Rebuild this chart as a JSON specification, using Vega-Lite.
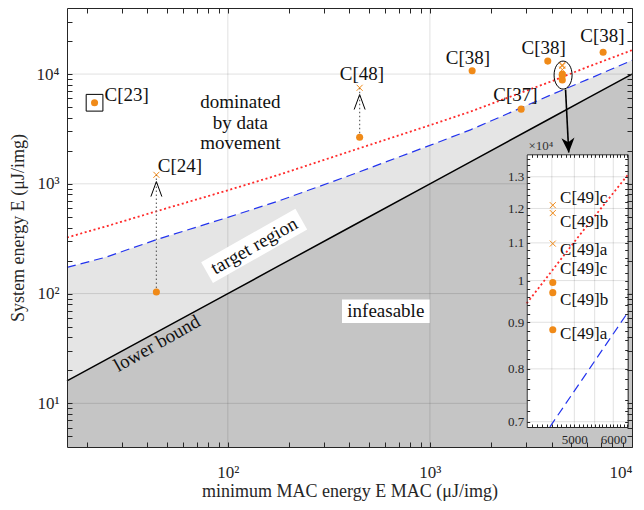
{
  "$schema": "https://vega.github.io/schema/vega-lite/v6.json",
  "width": 565,
  "height": 439,
  "autosize": {"type": "none"},
  "padding": {"left": 67, "top": 8, "right": 12, "bottom": 63},
  "background": "white",
  "config": {
    "font": "Liberation Serif",
    "view": {"stroke": null},
    "axis": {"titleFontWeight": "normal", "labelColor": "#262626", "titleColor": "#262626", "domainColor": "#262626", "tickColor": "#262626", "grid": false, "labelOverlap": false}
  },
  "datasets": {
    "curve": [
      {"x": 16, "red": 324, "blue": 173},
      {"x": 25, "red": 410, "blue": 215},
      {"x": 44.3, "red": 562, "blue": 310},
      {"x": 100, "red": 873, "blue": 495},
      {"x": 178.5, "red": 1207, "blue": 698},
      {"x": 400, "red": 1970, "blue": 1190},
      {"x": 1000, "red": 3420, "blue": 2240},
      {"x": 1587, "red": 4550, "blue": 3105},
      {"x": 4000, "red": 8600, "blue": 6500},
      {"x": 6000, "red": 11580, "blue": 8900},
      {"x": 10000, "red": 16500, "blue": 13350}
    ],
    "dots": [
      {"name": "C[23]", "x": 21.9, "y": 5480},
      {"name": "C[24]", "x": 44.3, "y": 103.4},
      {"name": "C[48]", "x": 449, "y": 2660},
      {"name": "C[38]", "x": 1618, "y": 10720},
      {"name": "C[38]", "x": 3830, "y": 13130},
      {"name": "C[38]", "x": 7195, "y": 15780},
      {"name": "C[37]", "x": 2828, "y": 4790},
      {"name": "C[49]a", "x": 4520, "y": 8830},
      {"name": "C[49]b", "x": 4520, "y": 9700},
      {"name": "C[49]c", "x": 4520, "y": 9950}
    ],
    "crosses": [
      {"name": "C[24]", "x": 44.3, "y": 1208},
      {"name": "C[48]", "x": 449, "y": 7500},
      {"name": "C[49]a", "x": 4520, "y": 10980},
      {"name": "C[49]b", "x": 4520, "y": 11860},
      {"name": "C[49]c", "x": 4520, "y": 12100}
    ],
    "conn": [
      {"x": 44.3, "lo": 103.4, "hi": 1208},
      {"x": 449, "lo": 2660, "hi": 7500}
    ],
    "labels": [
      {"t": "C[23]", "x": 31.6, "y": 6440},
      {"t": "C[24]", "x": 57.9, "y": 1459},
      {"t": "C[48]", "x": 461, "y": 9960},
      {"t": "C[38]", "x": 1542, "y": 14130},
      {"t": "C[38]", "x": 3656, "y": 17420},
      {"t": "C[38]", "x": 7145, "y": 22080},
      {"t": "C[37]", "x": 2648, "y": 6500}
    ],
    "c49": [
      {"x": 4520, "dot": 8830, "cross": 10980},
      {"x": 4520, "dot": 9700, "cross": 11860},
      {"x": 4520, "dot": 9950, "cross": 12100}
    ],
    "c49labels": [
      {"t": "C[49]c", "x": 4677, "y": 12330},
      {"t": "C[49]b", "x": 4677, "y": 11590},
      {"t": "C[49]a", "x": 4677, "y": 10800},
      {"t": "C[49]c", "x": 4677, "y": 10290},
      {"t": "C[49]b", "x": 4677, "y": 9526},
      {"t": "C[49]a", "x": 4677, "y": 8740}
    ]
  },
  "layer": [
    {
      "resolve": {"axis": {"x": "independent", "y": "independent"}},
      "layer": [
        {
          "data": {"name": "curve"},
          "mark": {"type": "area", "color": "#e5e5e5"},
          "encoding": {
            "x": {"field": "x", "type": "quantitative", "scale": {"type": "log", "domain": [16, 10000], "nice": false}, "axis": null},
            "y": {"field": "blue", "type": "quantitative", "scale": {"type": "log", "domain": [4, 40000], "nice": false}, "axis": null},
            "y2": {"field": "x"}
          }
        },
        {
          "data": {"name": "curve"},
          "mark": {"type": "area", "color": "#c5c5c5"},
          "encoding": {
            "x": {"field": "x", "type": "quantitative", "scale": {"type": "log", "domain": [16, 10000], "nice": false}, "axis": null},
            "y": {"field": "x", "type": "quantitative", "scale": {"type": "log", "domain": [4, 40000], "nice": false}, "axis": null},
            "y2": {"datum": 4}
          }
        },
        {
          "data": {"values": [{"v": 100}, {"v": 1000}]},
          "mark": {"type": "rule", "color": "#000", "opacity": 0.12, "strokeWidth": 1},
          "encoding": {
            "x": {"field": "v", "type": "quantitative", "scale": {"type": "log", "domain": [16, 10000], "nice": false},
              "axis": {"orient": "bottom", "zindex": 1, "values": [20,30,40,50,60,70,80,90,100,200,300,400,500,600,700,800,900,1000,2000,3000,4000,5000,6000,7000,8000,9000,10000],
                "labelExpr": "datum.value==100?'10²':datum.value==1000?'10³':datum.value==10000?'10⁴':''",
                "tickSize": -5, "labelPadding": 22, "labelFontSize": 17, "title": "minimum MAC energy  E MAC (μJ/img)", "titleFontSize": 18, "titlePadding": 2}}
          }
        },
        {
          "data": {"values": [{"v": 10}, {"v": 100}, {"v": 1000}, {"v": 10000}]},
          "mark": {"type": "rule", "color": "#000", "opacity": 0.12, "strokeWidth": 1},
          "encoding": {
            "y": {"field": "v", "type": "quantitative", "scale": {"type": "log", "domain": [4, 40000], "nice": false},
              "axis": {"orient": "left", "zindex": 1, "values": [5,6,7,8,9,10,20,30,40,50,60,70,80,90,100,200,300,400,500,600,700,800,900,1000,2000,3000,4000,5000,6000,7000,8000,9000,10000,20000,30000],
                "labelExpr": "datum.value==10?'10¹':datum.value==100?'10²':datum.value==1000?'10³':datum.value==10000?'10⁴':''",
                "tickSize": -5, "labelPadding": 13, "labelFontSize": 17, "title": "System energy  E (μJ/img)", "titleFontSize": 18, "titlePadding": 9}}
          }
        },
        {
          "data": {"name": "curve"},
          "mark": {"type": "line", "color": "#000", "strokeWidth": 1.5},
          "encoding": {
            "x": {"field": "x", "type": "quantitative", "scale": {"type": "log", "domain": [16, 10000], "nice": false}, "axis": null},
            "y": {"field": "x", "type": "quantitative", "scale": {"type": "log", "domain": [4, 40000], "nice": false}, "axis": null}
          }
        },
        {
          "data": {"name": "curve"},
          "mark": {"type": "line", "color": "#2233ee", "strokeWidth": 1.2, "strokeDash": [9, 5]},
          "encoding": {
            "x": {"field": "x", "type": "quantitative", "scale": {"type": "log", "domain": [16, 10000], "nice": false}, "axis": null},
            "y": {"field": "blue", "type": "quantitative", "scale": {"type": "log", "domain": [4, 40000], "nice": false}, "axis": null}
          }
        },
        {
          "data": {"name": "curve"},
          "mark": {"type": "line", "color": "#ff2a2a", "strokeWidth": 1.8, "strokeDash": [2, 2.6]},
          "encoding": {
            "x": {"field": "x", "type": "quantitative", "scale": {"type": "log", "domain": [16, 10000], "nice": false},
              "axis": {"orient": "top", "zindex": 1, "values": [20,30,40,50,60,70,80,90,100,200,300,400,500,600,700,800,900,1000,2000,3000,4000,5000,6000,7000,8000,9000,10000], "labels": false, "tickSize": -5, "title": null}},
            "y": {"field": "red", "type": "quantitative", "scale": {"type": "log", "domain": [4, 40000], "nice": false},
              "axis": {"orient": "right", "zindex": 1, "values": [5,6,7,8,9,10,20,30,40,50,60,70,80,90,100,200,300,400,500,600,700,800,900,1000,2000,3000,4000,5000,6000,7000,8000,9000,10000,20000,30000], "labels": false, "tickSize": -5, "title": null}}
          }
        },
        {
          "data": {"name": "conn"},
          "mark": {"type": "rule", "color": "#666", "strokeWidth": 1.2, "strokeDash": [1.5, 2.5]},
          "encoding": {
            "x": {"field": "x", "type": "quantitative", "scale": {"type": "log", "domain": [16, 10000], "nice": false}, "axis": null},
            "y": {"field": "lo", "type": "quantitative", "scale": {"type": "log", "domain": [4, 40000], "nice": false}, "axis": null},
            "y2": {"field": "hi"}
          }
        },
        {
          "data": {"name": "dots"},
          "mark": {"type": "point", "shape": "circle", "filled": true, "color": "#F08A18", "opacity": 1, "size": 50},
          "encoding": {
            "x": {"field": "x", "type": "quantitative", "scale": {"type": "log", "domain": [16, 10000], "nice": false}, "axis": null},
            "y": {"field": "y", "type": "quantitative", "scale": {"type": "log", "domain": [4, 40000], "nice": false}, "axis": null}
          }
        },
        {
          "data": {"name": "crosses"},
          "mark": {"type": "point", "shape": "M-1,-1L1,1M-1,1L1,-1", "filled": false, "color": "#F08A18", "opacity": 1, "size": 36, "strokeWidth": 1},
          "encoding": {
            "x": {"field": "x", "type": "quantitative", "scale": {"type": "log", "domain": [16, 10000], "nice": false}, "axis": null},
            "y": {"field": "y", "type": "quantitative", "scale": {"type": "log", "domain": [4, 40000], "nice": false}, "axis": null}
          }
        },
        {
          "data": {"values": [{"x": 44.3, "y": 1208}, {"x": 449, "y": 7500}]},
          "mark": {"type": "point", "shape": "M-0.73,2.9L0,0.9L0.73,2.9", "filled": false, "color": "#000", "opacity": 1, "size": 225, "strokeWidth": 1},
          "encoding": {
            "x": {"field": "x", "type": "quantitative", "scale": {"type": "log", "domain": [16, 10000], "nice": false}, "axis": null},
            "y": {"field": "y", "type": "quantitative", "scale": {"type": "log", "domain": [4, 40000], "nice": false}, "axis": null}
          }
        },
        {
          "data": {"values": [{"x": 21.9, "y": 5480}]},
          "mark": {"type": "point", "shape": "square", "filled": false, "color": "#000", "opacity": 1, "size": 280, "strokeWidth": 1},
          "encoding": {
            "x": {"field": "x", "type": "quantitative", "scale": {"type": "log", "domain": [16, 10000], "nice": false}, "axis": null},
            "y": {"field": "y", "type": "quantitative", "scale": {"type": "log", "domain": [4, 40000], "nice": false}, "axis": null}
          }
        },
        {
          "data": {"values": [{"x": 4560, "y": 9790}]},
          "mark": {"type": "point", "shape": "M -0.643 0 A 0.643 1 0 1 1 0.643 0 A 0.643 1 0 1 1 -0.643 0 Z", "filled": false, "color": "#000", "opacity": 1, "size": 784, "strokeWidth": 1},
          "encoding": {
            "x": {"field": "x", "type": "quantitative", "scale": {"type": "log", "domain": [16, 10000], "nice": false}, "axis": null},
            "y": {"field": "y", "type": "quantitative", "scale": {"type": "log", "domain": [4, 40000], "nice": false}, "axis": null}
          }
        },
        {
          "data": {"values": [{"x": 4690, "y": 7225, "x2": 4864, "y2": 1930}]},
          "mark": {"type": "rule", "color": "#000", "strokeWidth": 1.6},
          "encoding": {
            "x": {"field": "x", "type": "quantitative", "scale": {"type": "log", "domain": [16, 10000], "nice": false}, "axis": null},
            "y": {"field": "y", "type": "quantitative", "scale": {"type": "log", "domain": [4, 40000], "nice": false}, "axis": null},
            "x2": {"field": "x2"},
            "y2": {"field": "y2"}
          }
        },
        {
          "data": {"values": [{"x": 4864, "y": 1915}]},
          "mark": {"type": "point", "shape": "M -0.87 -2 L 0 0 L 0.87 -2 L 0 -1.4 Z", "filled": true, "color": "#000", "opacity": 1, "size": 225, "angle": -3},
          "encoding": {
            "x": {"field": "x", "type": "quantitative", "scale": {"type": "log", "domain": [16, 10000], "nice": false}, "axis": null},
            "y": {"field": "y", "type": "quantitative", "scale": {"type": "log", "domain": [4, 40000], "nice": false}, "axis": null}
          }
        },
        {
          "data": {"name": "labels"},
          "mark": {"type": "text", "fontSize": 19, "color": "#111", "align": "center", "baseline": "middle"},
          "encoding": {
            "x": {"field": "x", "type": "quantitative", "scale": {"type": "log", "domain": [16, 10000], "nice": false}, "axis": null},
            "y": {"field": "y", "type": "quantitative", "scale": {"type": "log", "domain": [4, 40000], "nice": false}, "axis": null},
            "text": {"field": "t"}
          }
        },
        {
          "data": {"values": [{"x": 135, "y": 272}]},
          "mark": {"type": "point", "shape": "M -1 -0.2207 L 1 -0.2207 L 1 0.2207 L -1 0.2207 Z", "filled": true, "color": "#fff", "opacity": 1, "size": 11729, "angle": -29.5},
          "encoding": {
            "x": {"field": "x", "type": "quantitative", "scale": {"type": "log", "domain": [16, 10000], "nice": false}, "axis": null},
            "y": {"field": "y", "type": "quantitative", "scale": {"type": "log", "domain": [4, 40000], "nice": false}, "axis": null}
          }
        },
        {
          "data": {"values": [{"x": 605, "y": 69}]},
          "mark": {"type": "point", "shape": "M -1 -0.266 L 1 -0.266 L 1 0.266 L -1 0.266 Z", "filled": true, "color": "#fff", "opacity": 1, "size": 7674},
          "encoding": {
            "x": {"field": "x", "type": "quantitative", "scale": {"type": "log", "domain": [16, 10000], "nice": false}, "axis": null},
            "y": {"field": "y", "type": "quantitative", "scale": {"type": "log", "domain": [4, 40000], "nice": false}, "axis": null}
          }
        },
        {
          "data": {"values": [{"t": "target region", "x": 135, "y": 272}, {"t": "lower bound", "x": 44.6, "y": 35.1}]},
          "mark": {"type": "text", "fontSize": 19, "color": "#111", "align": "center", "baseline": "middle", "angle": -29.5},
          "encoding": {
            "x": {"field": "x", "type": "quantitative", "scale": {"type": "log", "domain": [16, 10000], "nice": false}, "axis": null},
            "y": {"field": "y", "type": "quantitative", "scale": {"type": "log", "domain": [4, 40000], "nice": false}, "axis": null},
            "text": {"field": "t"}
          }
        },
        {
          "data": {"values": [{"t": "infeasable", "x": 605, "y": 69}, {"t": "dominated\nby data\nmovement", "x": 115.3, "y": 5520}]},
          "mark": {"type": "text", "fontSize": 19, "color": "#111", "align": "center", "baseline": "middle", "lineBreak": "\n", "lineHeight": 20.5},
          "encoding": {
            "x": {"field": "x", "type": "quantitative", "scale": {"type": "log", "domain": [16, 10000], "nice": false}, "axis": null},
            "y": {"field": "y", "type": "quantitative", "scale": {"type": "log", "domain": [4, 40000], "nice": false}, "axis": null},
            "text": {"field": "t"}
          }
        },
        {
          "data": {"values": [{"t": "×10⁴", "x": 3074, "y": 2042}]},
          "mark": {"type": "text", "fontSize": 13, "color": "#333", "align": "left", "baseline": "alphabetic"},
          "encoding": {
            "x": {"field": "x", "type": "quantitative", "scale": {"type": "log", "domain": [16, 10000], "nice": false}, "axis": null},
            "y": {"field": "y", "type": "quantitative", "scale": {"type": "log", "domain": [4, 40000], "nice": false}, "axis": null},
            "text": {"field": "t"}
          }
        }
      ]
    },
    {
      "resolve": {"axis": {"x": "independent", "y": "independent"}},
      "layer": [
        {
          "data": {"values": [{"a": 4000, "b": 6420, "c": 6907, "d": 13760}]},
          "mark": {"type": "rect", "color": "#fff"},
          "encoding": {
            "x": {"field": "a", "type": "quantitative", "scale": {"type": "log", "domain": [4000, 6420], "nice": false, "range": [459.7, 560.7]},
              "axis": {"orient": "bottom", "zindex": 2, "offset": -20, "values": [4100,4200,4300,4400,4500,4600,4700,4800,4900,5000,5100,5200,5300,5400,5500,5600,5700,5800,5900,6000,6100,6200,6300,6400],
                "labelExpr": "datum.value==5000||datum.value==6000?format(datum.value,'d'):''", "tickSize": -3, "labelPadding": 9, "labelFontSize": 13, "labelFlush": false, "title": null}},
            "x2": {"field": "b"},
            "y": {"field": "c", "type": "quantitative", "scale": {"type": "log", "domain": [6907, 13760], "nice": false, "range": [419, 146.3]},
              "axis": {"orient": "left", "zindex": 2, "offset": -459.7, "values": [7000,7200,7400,7600,7800,8000,8200,8400,8600,8800,9000,9200,9400,9600,9800,10000,10200,10400,10600,10800,11000,11200,11400,11600,11800,12000,12200,12400,12600,12800,13000,13200,13400,13600],
                "labelExpr": "indexof([7000,8000,9000,10000,11000,12000,13000],datum.value)>=0?format(datum.value/10000,'.1~f'):''", "tickSize": -3, "labelPadding": 6, "labelFontSize": 13, "labelFlush": false, "title": null}},
            "y2": {"field": "d"}
          }
        },
        {
          "data": {"values": [{"v": 4500}, {"v": 5000}, {"v": 5500}, {"v": 6000}]},
          "mark": {"type": "rule", "color": "#000", "opacity": 0.12, "strokeWidth": 1},
          "encoding": {
            "x": {"field": "v", "type": "quantitative", "scale": {"type": "log", "domain": [4000, 6420], "nice": false, "range": [459.7, 560.7]}, "axis": null},
            "y": {"datum": 6907, "type": "quantitative", "scale": {"type": "log", "domain": [6907, 13760], "nice": false, "range": [419, 146.3]}, "axis": null},
            "y2": {"datum": 13760}
          }
        },
        {
          "data": {"values": [{"v": 7000}, {"v": 8000}, {"v": 9000}, {"v": 10000}, {"v": 11000}, {"v": 12000}, {"v": 13000}]},
          "mark": {"type": "rule", "color": "#000", "opacity": 0.12, "strokeWidth": 1},
          "encoding": {
            "y": {"field": "v", "type": "quantitative", "scale": {"type": "log", "domain": [6907, 13760], "nice": false, "range": [419, 146.3]}, "axis": null},
            "x": {"datum": 4000, "type": "quantitative", "scale": {"type": "log", "domain": [4000, 6420], "nice": false, "range": [459.7, 560.7]}, "axis": null},
            "x2": {"datum": 6420}
          }
        },
        {
          "data": {"values": [{"x": 4000, "y": 9440}, {"x": 5100, "y": 11180}, {"x": 6420, "y": 13060}]},
          "mark": {"type": "line", "color": "#ff2a2a", "strokeWidth": 1.8, "strokeDash": [2, 2.6]},
          "encoding": {
            "x": {"field": "x", "type": "quantitative", "scale": {"type": "log", "domain": [4000, 6420], "nice": false, "range": [459.7, 560.7]},
              "axis": {"orient": "top", "zindex": 2, "offset": -146.3, "values": [4100,4200,4300,4400,4500,4600,4700,4800,4900,5000,5100,5200,5300,5400,5500,5600,5700,5800,5900,6000,6100,6200,6300,6400], "labels": false, "tickSize": -3, "title": null}},
            "y": {"field": "y", "type": "quantitative", "scale": {"type": "log", "domain": [6907, 13760], "nice": false, "range": [419, 146.3]},
              "axis": {"orient": "right", "zindex": 2, "offset": -4.3, "values": [7000,7200,7400,7600,7800,8000,8200,8400,8600,8800,9000,9200,9400,9600,9800,10000,10200,10400,10600,10800,11000,11200,11400,11600,11800,12000,12200,12400,12600,12800,13000,13200,13400,13600], "labels": false, "tickSize": -3, "title": null}}
          }
        },
        {
          "data": {"values": [{"x": 4460, "y": 6910}, {"x": 5400, "y": 8040}, {"x": 6408, "y": 9210}]},
          "mark": {"type": "line", "color": "#2233ee", "strokeWidth": 1.2, "strokeDash": [9, 5]},
          "encoding": {
            "x": {"field": "x", "type": "quantitative", "scale": {"type": "log", "domain": [4000, 6420], "nice": false, "range": [459.7, 560.7]}, "axis": null},
            "y": {"field": "y", "type": "quantitative", "scale": {"type": "log", "domain": [6907, 13760], "nice": false, "range": [419, 146.3]}, "axis": null}
          }
        },
        {
          "data": {"name": "c49"},
          "mark": {"type": "point", "shape": "M-1,-1L1,1M-1,1L1,-1", "filled": false, "color": "#F08A18", "opacity": 1, "size": 36, "strokeWidth": 1},
          "encoding": {
            "x": {"field": "x", "type": "quantitative", "scale": {"type": "log", "domain": [4000, 6420], "nice": false, "range": [459.7, 560.7]}, "axis": null},
            "y": {"field": "cross", "type": "quantitative", "scale": {"type": "log", "domain": [6907, 13760], "nice": false, "range": [419, 146.3]}, "axis": null}
          }
        },
        {
          "data": {"name": "c49"},
          "mark": {"type": "point", "shape": "circle", "filled": true, "color": "#F08A18", "opacity": 1, "size": 50},
          "encoding": {
            "x": {"field": "x", "type": "quantitative", "scale": {"type": "log", "domain": [4000, 6420], "nice": false, "range": [459.7, 560.7]}, "axis": null},
            "y": {"field": "dot", "type": "quantitative", "scale": {"type": "log", "domain": [6907, 13760], "nice": false, "range": [419, 146.3]}, "axis": null}
          }
        },
        {
          "data": {"name": "c49labels"},
          "mark": {"type": "text", "fontSize": 17, "color": "#111", "align": "left", "baseline": "middle"},
          "encoding": {
            "x": {"field": "x", "type": "quantitative", "scale": {"type": "log", "domain": [4000, 6420], "nice": false, "range": [459.7, 560.7]}, "axis": null},
            "y": {"field": "y", "type": "quantitative", "scale": {"type": "log", "domain": [6907, 13760], "nice": false, "range": [419, 146.3]}, "axis": null},
            "text": {"field": "t"}
          }
        }
      ]
    }
  ],
  "resolve": {"scale": {"x": "independent", "y": "independent"}, "axis": {"x": "independent", "y": "independent"}}
}
